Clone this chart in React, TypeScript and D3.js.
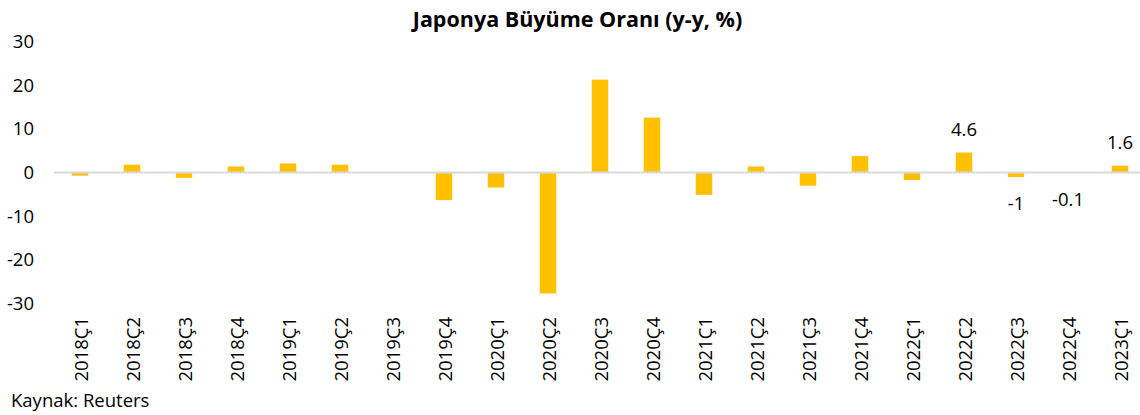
import React from "react";
import * as d3 from "d3";

// çeyrekler ve yıllık büyüme (y-y, %)
const quarters = [
  "2018Ç1", "2018Ç2", "2018Ç3", "2018Ç4",
  "2019Ç1", "2019Ç2", "2019Ç3", "2019Ç4",
  "2020Ç1", "2020Ç2", "2020Ç3", "2020Ç4",
  "2021Ç1", "2021Ç2", "2021Ç3", "2021Ç4",
  "2022Ç1", "2022Ç2", "2022Ç3", "2022Ç4",
  "2023Ç1",
];
const growth = [
  -0.7, 1.8, -1.2, 1.4,
  2.1, 1.8, 0.1, -6.3,
  -3.4, -27.7, 21.3, 12.6,
  -5.1, 1.4, -3.0, 3.8,
  -1.7, 4.6, -1.0, -0.1,
  1.6,
];
// sadece son dört çeyreğin etiketi var
const labelled = ["2022Ç2", "2022Ç3", "2022Ç4", "2023Ç1"];
const yTicks = [30, 20, 10, 0, -10, -20, -30];

const title = "Japonya Büyüme Oranı (y-y, %)";
const source = "Kaynak: Reuters";

const W = 1140;
const H = 415;
const FONT = "'Open Sans', sans-serif";
const BAR = "#FFC000";

export default function App() {
  const x = d3.scaleBand<string>()
    .domain(quarters)
    .range([54, 1146])
    .paddingInner(0.683)
    .paddingOuter(0.3415);

  const y = d3.scaleLinear().domain([-30, 30]).range([303.5, 41.7]);
  const y0 = y(0);

  return (
    <svg width={W} height={H} style={{ position: "absolute", left: 0, top: 0 }} fontFamily={FONT}>
      <rect width={W} height={H} fill="#fff" />

      <text x={577.5} y={27} textAnchor="middle" fontWeight="bold" fontSize={21.5} fill="#000">
        {title}
      </text>

      {/* y ekseni etiketleri */}
      {yTicks.map((t) => (
        <text key={t} x={34} y={y(t)} dy="0.35em" textAnchor="end" fontSize={18.5} fill="#000">
          {t}
        </text>
      ))}

      {/* barlar */}
      {quarters.map((q, i) => {
        const v = growth[i];
        const top = Math.min(y(v), y0);
        const h = Math.abs(y(v) - y0);
        return <rect key={q} x={x(q)} y={top} width={x.bandwidth()} height={h} fill={BAR} />;
      })}

      {/* sıfır çizgisi */}
      <line x1={54} x2={W} y1={y0} y2={y0} stroke="#D9D9D9" strokeWidth={2} />

      {/* değer etiketleri */}
      {quarters.map((q, i) => {
        if (!labelled.includes(q)) return null;
        const v = growth[i];
        const cx = (x(q) as number) + x.bandwidth() / 2;
        const ly = v >= 0 ? y(v) - 17 : y(v) + 33;
        return (
          <text key={"l" + q} x={cx} y={ly} textAnchor="middle" fontSize={18.5} fill="#000">
            {v}
          </text>
        );
      })}

      {/* x ekseni etiketleri */}
      {quarters.map((q) => {
        const cx = (x(q) as number) + x.bandwidth() / 2;
        return (
          <text
            key={"x" + q}
            transform={`translate(${cx + 7.5},317) rotate(-90)`}
            textAnchor="end"
            fontSize={18.5}
            fill="#000"
          >
            {q}
          </text>
        );
      })}

      <text x={11} y={407} fontSize={18.5} fill="#000">{source}</text>
    </svg>
  );
}
